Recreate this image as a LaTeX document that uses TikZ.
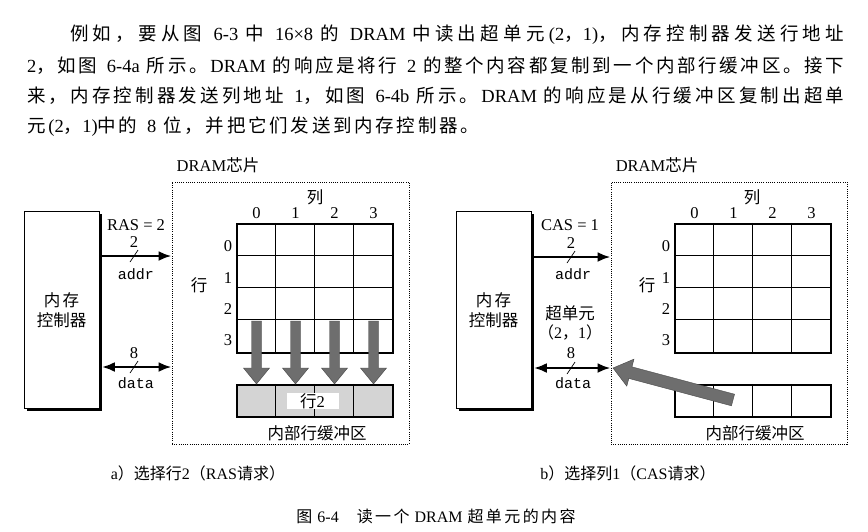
\documentclass[tikz,border=0pt]{standalone}
\usepackage{fontspec}
\setmainfont{Liberation Serif}
\setmonofont{Liberation Mono}
\newfontfamily\cjk{Noto Sans CJK SC}
\newfontfamily\cjkp[LetterSpace=15]{Noto Sans CJK SC}
\usetikzlibrary{arrows.meta,calc,shadows}
\newcommand\zh[1]{{\cjk #1}}
\newcommand\widesp{\spaceskip=7pt plus 0pt\relax}
% CJK run with stretchable glue after every character (for justified lines)
\def\zsloop#1{\ifx#1\relax\else#1\hskip0pt plus 1fil\expandafter\zsloop\fi}
\newcommand\zs[1]{{\cjk\zsloop#1\relax}}
% fat gray arrow: #1 tail, #2 tip, #3 shaft half width, #4 head half width, #5 head length
\newcommand\fatarrow[5]{%
  \path #1 coordinate (fa-e) #2 coordinate (fa-t);
  \coordinate (fa-b) at ($(fa-t)!#5!(fa-e)$);
  \filldraw[fat] (fa-t) -- ($(fa-b)!#4!90:(fa-t)$) -- ($(fa-b)!#3!90:(fa-t)$)
    -- ($(fa-e)!#3!90:(fa-t)$) -- ($(fa-e)!#3!-90:(fa-t)$)
    -- ($(fa-b)!#3!-90:(fa-t)$) -- ($(fa-b)!#4!-90:(fa-t)$) -- cycle;
}
\begin{document}
\begin{tikzpicture}[x=1pt,y=-1pt,
  ctrl/.style={draw, line width=0.7pt, fill=white, minimum width=75pt, minimum height=197pt,
    inner sep=0pt, align=center, font=\cjk\fontsize{16.5}{19.5}\selectfont,
    drop shadow={shadow xshift=2.5pt, shadow yshift=-2.5pt, opacity=1, fill=black}},
  chip/.style={draw, line width=0.9pt, dash pattern=on 0.9pt off 1.3pt,
    minimum height=262pt, inner sep=0pt},
  cellgrid/.style={draw, line width=2.2pt, minimum width=156pt, minimum height=129pt, inner sep=0pt},
  buf/.style={draw, line width=2.2pt, minimum width=156pt, minimum height=32pt, inner sep=0pt},
  thinln/.style={line width=0.6pt},
  bus/.style={line width=2.6pt, -{Latex[length=13pt,width=10pt]}},
  bibus/.style={line width=2.6pt, {Latex[length=13pt,width=10pt]}-{Latex[length=13pt,width=10pt]}},
  slash/.style={line width=0.7pt},
  lab/.style={inner sep=0pt, font=\fontsize{16.5}{19}\selectfont},
  mono/.style={inner sep=0pt, font=\ttfamily\fontsize{15}{15}\selectfont},
  captxt/.style={inner sep=0pt, font=\fontsize{16}{18}\selectfont},
  para/.style={inner sep=0pt, anchor=west, font=\fontsize{18.5}{18.5}\selectfont},
  fat/.style={fill=black!57, draw=black!72, line width=0.4pt}
]
\fill[white] (0,0) rectangle (868,531);
\useasboundingbox (0,0) rectangle (868,531);

% ---------- paragraph ----------
\node[para] (p1) at (70,35) {\widesp\makebox[774pt][s]{\zs{例如，要从图} 6-3 \zs{中} 16×8 \zs{的} DRAM \zs{中读出超单元}(2{\cjk ，}1)\zs{，内存控制器发送行地址}\unskip}};
\node[para] (p2) at (27,65.5) {\widesp\makebox[817pt][s]{2\zs{，如图} 6-4a \zs{所示。}DRAM \zs{的响应是将行} 2 \zs{的整个内容都复制到一个内部行缓冲区。接下}\unskip}};
\node[para] (p3) at (27,96) {\widesp\makebox[817pt][s]{\zs{来，内存控制器发送列地址} 1\zs{，如图} 6-4b \zs{所示。}DRAM \zs{的响应是从行缓冲区复制出超单}\unskip}};
\node[para] (p4) at (27,126.5) {\widesp\makebox[452pt][s]{\zs{元}(2{\cjk ，}1)\zs{中的} 8 \zs{位，并把它们发送到内存控制器。}\unskip}};

% ---------- part (a) ----------
\node[ctrl] (ctrlA) at (61.5,310) {{\cjkp 内存}\\控制器};
\node[chip, minimum width=237pt] (chipA) at (290.5,313) {};
\node[lab] (dramA) at (218,165) {DRAM\zh{芯片}};
\node[lab] (colA) at (315,197) {\zh{列}};
\node[lab] (rowA) at (199,285) {\zh{行}};
\node[cellgrid] (gridA) at (315,288.5) {};
\foreach \i in {1,2,3} {
  \draw[thinln] ($(gridA.north west)+(39*\i,0)$) -- ($(gridA.south west)+(39*\i,0)$);
  \draw[thinln] ($(gridA.north west)+(0,32.25*\i)$) -- ($(gridA.north east)+(0,32.25*\i)$);
}
\foreach \i in {0,...,3} {\node[lab] at (256.5+39*\i,213) {\i};}
\foreach \j/\y in {0/246,1/278,2/309,3/340} {\node[lab] at (228,\y) {\j};}
\node[buf, fill=black!17] (bufA) at (315,401) {};
\foreach \i in {1,2,3} {
  \draw[thinln] ($(bufA.north west)+(39*\i,0)$) -- ($(bufA.south west)+(39*\i,0)$);
}
\node[lab, fill=white, minimum width=52pt, minimum height=15pt] (rowtwo) at (312.5,401) {\zh{行}2};
\node[lab] (bufAlab) at (317,433) {\zh{内部行缓冲区}};
\foreach \i in {0,...,3} {
  \fatarrow{(256.5+39*\i,321)}{(256.5+39*\i,384)}{5pt}{13pt}{16pt}
}

\coordinate (ctrlAr) at ($(ctrlA.east)+(2.5,0)$);
\coordinate (yaddrA) at (0,256);
\coordinate (ydataA) at (0,367);
\draw[bus] (ctrlAr |- yaddrA) -- (chipA.west |- yaddrA);
\draw[bibus] (ctrlAr |- ydataA) -- (chipA.west |- ydataA);
\draw[slash] (130,262) -- (138,250);
\draw[slash] (130,373) -- (138,361);
\node[lab] (rasA) at (136,225) {RAS = 2};
\node[lab] (wA1) at (134,242) {2};
\node[mono] (addrA) at (136,274) {addr};
\node[lab] (wA2) at (134,353) {8};
\node[mono] (dataA) at (136,383) {data};
\node[captxt] (capA) at (198,473) {a\zh{）选择行}2\zh{（}RAS\zh{请求）}};

% ---------- part (b) ----------
\node[ctrl] (ctrlB) at (493.5,310) {{\cjkp 内存}\\控制器};
\node[chip, minimum width=236pt] (chipB) at (729,313) {};
\node[lab] (dramB) at (657,165) {DRAM\zh{芯片}};
\node[lab] (colB) at (752,197) {\zh{列}};
\node[lab] (rowB) at (647,285) {\zh{行}};
\node[cellgrid] (gridB) at (753,288.5) {};
\foreach \i in {1,2,3} {
  \draw[thinln] ($(gridB.north west)+(39*\i,0)$) -- ($(gridB.south west)+(39*\i,0)$);
  \draw[thinln] ($(gridB.north west)+(0,32.25*\i)$) -- ($(gridB.north east)+(0,32.25*\i)$);
}
\foreach \i in {0,...,3} {\node[lab] at (694.5+39*\i,213) {\i};}
\foreach \j/\y in {0/246,1/278,2/309,3/340} {\node[lab] at (666,\y) {\j};}
\node[buf, fill=white] (bufB) at (753,401) {};
\foreach \i in {1,2,3} {
  \draw[thinln] ($(bufB.north west)+(39*\i,0)$) -- ($(bufB.south west)+(39*\i,0)$);
}
\node[lab] (bufBlab) at (755,433) {\zh{内部行缓冲区}};

\coordinate (ctrlBr) at ($(ctrlB.east)+(2.5,0)$);
\coordinate (yaddrB) at (0,257);
\coordinate (ydataB) at (0,368);
\draw[bus] (ctrlBr |- yaddrB) -- (chipB.west |- yaddrB);
\draw[bibus] (ctrlBr |- ydataB) -- (chipB.west |- ydataB);
\draw[slash] (567,263) -- (575,251);
\draw[slash] (567,374) -- (575,362);
\node[lab] (casB) at (570,225) {CAS = 1};
\node[lab] (wB1) at (571,243) {2};
\node[mono] (addrB) at (573,274) {addr};
\node[lab] (superB) at (570,313) {\zh{超单元}};
\node[captxt] (superB2) at (570,333) {\zh{（}2\zh{，}1\zh{）}};
\node[lab] (wB2) at (571,353) {8};
\node[mono] (dataB) at (573,383) {data};
\fatarrow{(733,400)}{(613,368)}{6pt}{14pt}{18pt}
\node[captxt] (capB) at (628,473) {b\zh{）选择列}1\zh{（}CAS\zh{请求）}};

% ---------- figure caption ----------
\node[captxt] (figcap) at (436,516) {\spaceskip=5pt plus 0pt\relax{\cjkp 图} 6-4\hspace{18pt}{\cjkp 读一个} DRAM {\cjkp 超单元的内容}};
\end{tikzpicture}
\end{document}
